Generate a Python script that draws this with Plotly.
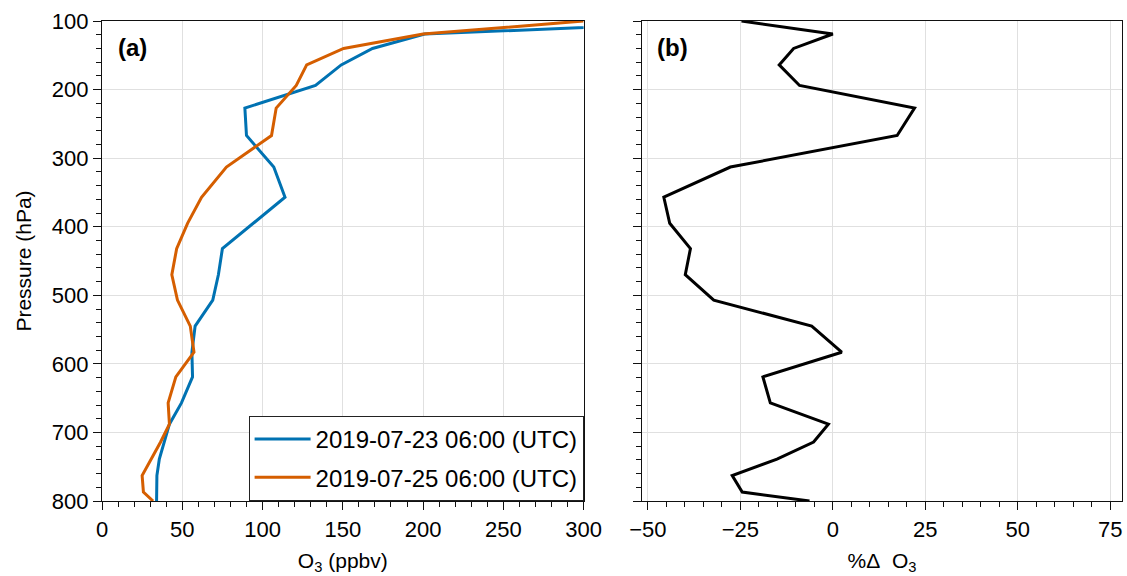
import plotly.graph_objects as go

# ---- data ----
pressure = [100, 119, 140, 164, 194, 227, 267, 313, 357, 395, 432, 470,
            507, 545, 583, 619, 657, 688, 714, 739, 763, 787, 800]
o3_0723 = [400, 201, 168.5, 149, 133, 89, 90, 107, 114, 94.5, 75, 72.5,
           69, 58, 56, 56.4, 49.5, 42, 38.6, 35.7, 34.2, 34, 34]
o3_0725 = [300, 200, 150.5, 127.5, 121, 108.5, 105.6, 77.5, 62, 53.3, 46.5, 43.5,
           47, 55, 57.3, 46, 41.2, 42, 36.5, 30.4, 25, 25.8, 31.8]
pct_diff = [-24.7, 0, -10.6, -14.5, -9.0, 22.1, 17.4, -27.7, -45.7, -44.1, -38.5, -39.9,
            -32.2, -5.7, 2.4, -18.9, -16.9, -1.2, -5.2, -15.1, -27.2, -24.5, -6.3]

labels = ["2019-07-23 06:00 (UTC)", "2019-07-25 06:00 (UTC)"]
colors = ["#0072B2", "#D55E00"]

xa_ticks = [0, 50, 100, 150, 200, 250, 300]
xb_ticks = [-50, -25, 0, 25, 50, 75]
xb_text = ["\u221250", "\u221225", "0", "25", "50", "75"]
y_ticks = [100, 200, 300, 400, 500, 600, 700, 800]

W, H = 1127, 576
L, R, T, B = 101.7, 5.3, 20.7, 75.0
IW = W - L - R
IH = H - T - B
FONT = "Liberation Sans, Arial, Helvetica, sans-serif"
FS_TICK = 22
FS_TITLE = 21
FS_LEG = 24
FS_PANEL = 24

fig = go.Figure()
fig.add_trace(go.Scatter(x=o3_0723, y=pressure, mode="lines", name=labels[0], legendgroup="g1",
                         line=dict(color=colors[0], width=3), xaxis="x", yaxis="y"))
fig.add_trace(go.Scatter(x=o3_0725, y=pressure, mode="lines", name=labels[1], legendgroup="g2",
                         line=dict(color=colors[1], width=3), xaxis="x", yaxis="y"))
fig.add_trace(go.Scatter(x=pct_diff, y=pressure, mode="lines", showlegend=False,
                         line=dict(color="black", width=3), xaxis="x2", yaxis="y2"))

common_axis = dict(showline=True, linecolor="#111", linewidth=1.3, mirror=True,
                   ticks="outside", ticklen=8, tickwidth=1.3, tickcolor="#111",
                   showgrid=True, gridcolor="#e0e0e0", gridwidth=1, zeroline=False,
                   automargin=False,
                   tickfont=dict(family=FONT, size=FS_TICK, color="black"))
minor_style = dict(ticklen=4.5, tickwidth=1.1, tickcolor="#111", ticks="outside", showgrid=False)

fig.update_layout(
    width=W, height=H,
    margin=dict(l=L, r=R, t=T, b=B, autoexpand=False),
    paper_bgcolor="white", plot_bgcolor="white",
    font=dict(family=FONT, size=FS_TICK, color="black"),
    xaxis=dict(domain=[0, 481.6 / IW], range=[0, 300], anchor="y",
               tickvals=xa_ticks, minor=dict(dtick=10, **minor_style),
               title=dict(text="O<sub>3</sub> (ppbv)", font=dict(family=FONT, size=FS_TITLE), standoff=12),
               **common_axis),
    yaxis=dict(domain=[0, 1], range=[800, 100], anchor="x",
               tickvals=y_ticks, minor=dict(dtick=20, **minor_style),
               title=dict(text="Pressure (hPa)", font=dict(family=FONT, size=FS_TITLE), standoff=14),
               **common_axis),
    xaxis2=dict(domain=[(641.7 - L) / IW, 1], range=[-51.6, 78.2], anchor="y2",
                tickvals=xb_ticks, ticktext=xb_text, minor=dict(dtick=5, tick0=0, **minor_style),
                title=dict(text="%\u0394\u00a0 O<sub>3</sub>", font=dict(family=FONT, size=FS_TITLE), standoff=12),
                **common_axis),
    yaxis2=dict(domain=[0, 1], range=[800, 100], anchor="x2",
                tickvals=y_ticks, showticklabels=False, minor=dict(dtick=20, **minor_style),
                **common_axis),
    legend=dict(x=481.6 / IW, y=0, xanchor="right", yanchor="bottom",
                bgcolor="white", bordercolor="#222", borderwidth=1,
                font=dict(family=FONT, size=FS_LEG, color="black"),
                itemwidth=56, tracegroupgap=4),
    annotations=[
        dict(text="<b>(a)</b>", x=(116 - L) / IW, y=1 - (47 - T) / IH, xref="paper", yref="paper",
             xanchor="left", yanchor="middle", showarrow=False,
             font=dict(family=FONT, size=FS_PANEL, color="black")),
        dict(text="<b>(b)</b>", x=(655 - L) / IW, y=1 - (47 - T) / IH, xref="paper", yref="paper",
             xanchor="left", yanchor="middle", showarrow=False,
             font=dict(family=FONT, size=FS_PANEL, color="black")),
    ],
)

fig.write_html("out.html")
